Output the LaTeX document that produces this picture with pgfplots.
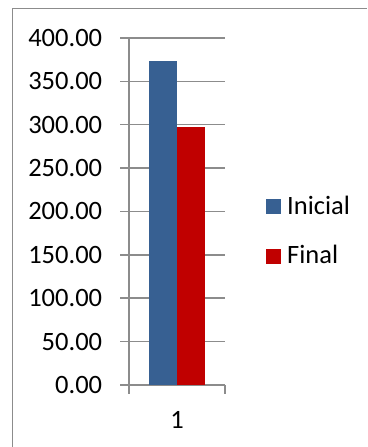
\documentclass[border=0pt]{standalone}
\usepackage{pgfplots}
\pgfplotsset{compat=1.18}
\usepackage{fontspec}
\setmainfont{Carlito}
\definecolor{axisgray}{RGB}{140,140,140}
\definecolor{inicial}{RGB}{55,96,146}
\definecolor{final}{RGB}{192,0,0}
\begin{document}
\begin{tikzpicture}[x=1bp,y=1bp]
\fontsize{26bp}{31bp}\selectfont
% page area and chart frame
\path[use as bounding box] (0,0) rectangle (367,447);
\draw[axisgray, line width=1.5bp] (12.5,0) -- (12.5,438.5) -- (367,438.5);
\begin{axis}[
  at={(129bp,62bp)}, anchor=south west,
  scale only axis, width=96bp, height=347bp,
  xmin=-0.5, xmax=0.5, ymin=0, ymax=400,
  axis lines=left, axis line style={-, axisgray, line width=1.5bp},
  ytick={0,50,...,400},
  yticklabel style={/pgf/number format/fixed, /pgf/number format/fixed zerofill,
    /pgf/number format/precision=2, /pgf/number format/assume math mode=true,
    font=\fontsize{26.5bp}{31bp}\selectfont, xshift=-9bp},
  ymajorgrids, grid style={axisgray, line width=1.5bp},
  tick align=outside, major tick length=9bp,
  tick style={axisgray, line width=1.5bp},
  xtick={-0.5,0.5}, xticklabels={},
  extra x ticks={0}, extra x tick labels={1},
  extra x tick style={major tick length=0pt,
    xticklabel style={font=\fontsize{26.5bp}{31bp}\selectfont, yshift=-18bp}},
  ybar, bar width=28bp,
  legend style={at={(1,0.5)}, anchor=west, xshift=38bp, yshift=-20bp,
    draw=none, fill=none,
    font=\fontsize{26.5bp}{31bp}\selectfont, row sep=23bp,
    /tikz/every odd column/.append style={column sep=4bp}},
  legend image code/.code={\fill (0bp,-7.5bp) rectangle (15bp,7.5bp);},
  legend cell align=left,
  clip=false,
]
\addplot[fill=inicial, draw=none, bar shift=-14bp] coordinates {(0,373.5)};
\addplot[fill=final, draw=none, bar shift=13.5bp] coordinates {(0,297.5)};
\legend{Inicial,Final}
\end{axis}
\end{tikzpicture}
\end{document}
